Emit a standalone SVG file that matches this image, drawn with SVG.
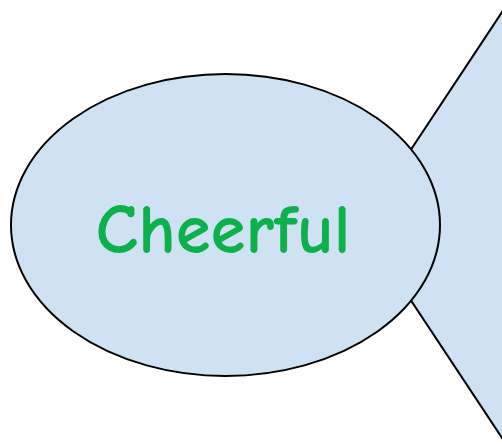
<svg xmlns="http://www.w3.org/2000/svg" width="502" height="445" viewBox="0 0 502 445">
<style>
.shape{fill:#cfe2f3;stroke:#000;stroke-width:2}
.lbl{font-family:"Comic Sans MS","Comic Neue","DejaVu Sans",sans-serif;font-size:71px;font-weight:bold;fill:#0db14b}
</style>
<rect width="502" height="445" fill="#fff"/>
<g id="wedge">
<polygon class="shape" points="361,225 520,-15 520,465"/>
</g>
<g id="cheerful">
<ellipse class="shape" cx="225.5" cy="225" rx="214.5" ry="151"/>
<text class="lbl" x="223" y="253" text-anchor="middle" textLength="255" lengthAdjust="spacingAndGlyphs">Cheerful</text>
</g>
<g id="connectors"/>
</svg>
